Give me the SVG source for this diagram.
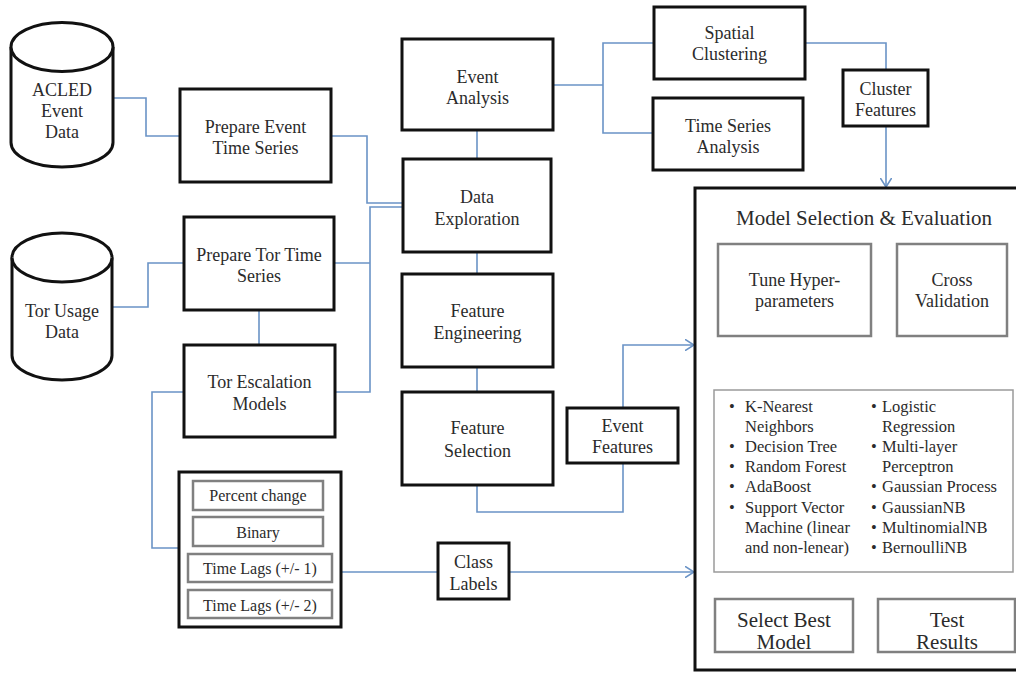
<svg xmlns="http://www.w3.org/2000/svg" width="1016" height="673" viewBox="0 0 1016 673" font-family="Liberation Serif, Times New Roman, DejaVu Serif, serif">
<defs>
<style>
.t{font-size:18px;fill:#2b2b2b;text-anchor:middle}
.s{font-size:16px}
.l{font-size:16.5px;fill:#2b2b2b}
.big{font-size:21px}
.bk{fill:#fff;stroke:#111;stroke-width:3}
.gr{fill:#fff;stroke:#808080;stroke-width:2.5}
.gl{fill:#fff;stroke:#9a9a9a;stroke-width:1.5}
.cyl{fill:#fff;stroke:#111;stroke-width:3}
.c{fill:none;stroke:#6a93c6;stroke-width:1.6}
</style>
<marker id="ar" viewBox="0 0 10 12" refX="9.5" refY="6" markerWidth="10" markerHeight="12" markerUnits="userSpaceOnUse" orient="auto">
<path d="M0,0 L9.5,6 L0,12" fill="none" stroke="#6a93c6" stroke-width="1.6"/>
</marker>
</defs>
<rect width="1016" height="673" fill="#fff"/>

<g id="connectors">
<path class="c" d="M113,98 H146 V136 H180"/>
<path class="c" d="M331,136 H367 V203 H403"/>
<path class="c" d="M112,307 H148 V263 H184"/>
<path class="c" d="M334,263 H370"/>
<path class="c" d="M403,207 H370 V392 H335"/>
<path class="c" d="M259,310 V345"/>
<path class="c" d="M184,392 H152 V548 H179"/>
<path class="c" d="M341,572 H438"/>
<path class="c" d="M509,572 H694" marker-end="url(#ar)"/>
<path class="c" d="M477,130 V159"/>
<path class="c" d="M477,252 V274"/>
<path class="c" d="M477,367 V392"/>
<path class="c" d="M477,485 V512 H623 V463"/>
<path class="c" d="M623,408 V345 H694" marker-end="url(#ar)"/>
<path class="c" d="M553,85 H603"/>
<path class="c" d="M654,43 H603 V133 H653"/>
<path class="c" d="M805,43 H886 V70"/>
<path class="c" d="M886,126 V187" marker-end="url(#ar)"/>
<path class="c" d="M871,290 H897"/>
<path class="c" d="M794,336 V362 H865 V390"/>
<path class="c" d="M780,572 L783,599"/>
<path class="c" d="M853,632 H878"/>
</g>

<g id="acled">
<path class="cyl" d="M11,47 A51,24.5 0 0 1 113,47 L113,142.5 A51,24.5 0 0 1 11,142.5 Z"/>
<path class="cyl" d="M11,47 A51,24.5 0 0 0 113,47" fill="none"/>
<text class="t" x="62" y="96">ACLED</text>
<text class="t" x="62" y="117">Event</text>
<text class="t" x="62" y="138">Data</text>
</g>

<g id="tor-usage">
<path class="cyl" d="M12,257.5 A50,24.5 0 0 1 112,257.5 L112,355.5 A50,24.5 0 0 1 12,355.5 Z"/>
<path class="cyl" d="M12,257.5 A50,24.5 0 0 0 112,257.5" fill="none"/>
<text class="t" x="62" y="317">Tor Usage</text>
<text class="t" x="62" y="338">Data</text>
</g>

<g id="prep-event">
<rect class="bk" x="180" y="89" width="151" height="93"/>
<text class="t" x="255.5" y="133">Prepare Event</text>
<text class="t" x="255.5" y="154">Time Series</text>
</g>

<g id="prep-tor">
<rect class="bk" x="184" y="217" width="150" height="93"/>
<text class="t" x="259" y="261">Prepare Tor Time</text>
<text class="t" x="259" y="282">Series</text>
</g>

<g id="tor-escalation">
<rect class="bk" x="184" y="345" width="151" height="92"/>
<text class="t" x="259.5" y="388">Tor Escalation</text>
<text class="t" x="259.5" y="410">Models</text>
</g>

<g id="labels-list">
<rect class="bk" x="179" y="472" width="162" height="155"/>
<rect class="gr" x="193" y="481" width="130" height="29"/>
<text class="t s" x="258" y="501">Percent change</text>
<rect class="gr" x="193" y="517" width="130" height="29"/>
<text class="t s" x="258" y="538">Binary</text>
<rect class="gr" x="188" y="554" width="144" height="28"/>
<text class="t s" x="260" y="574">Time Lags (+/- 1)</text>
<rect class="gr" x="188" y="590" width="144" height="28"/>
<text class="t s" x="260" y="611">Time Lags (+/- 2)</text>
</g>

<g id="class-labels">
<rect class="bk" x="438" y="543" width="71" height="56"/>
<text class="t" x="473.5" y="568">Class</text>
<text class="t" x="473.5" y="590">Labels</text>
</g>

<g id="event-analysis">
<rect class="bk" x="402" y="39" width="151" height="91"/>
<text class="t" x="477.5" y="83">Event</text>
<text class="t" x="477.5" y="104">Analysis</text>
</g>

<g id="data-exploration">
<rect class="bk" x="403" y="159" width="148" height="93"/>
<text class="t" x="477" y="203">Data</text>
<text class="t" x="477" y="225">Exploration</text>
</g>

<g id="feature-engineering">
<rect class="bk" x="402" y="274" width="151" height="93"/>
<text class="t" x="477.5" y="317">Feature</text>
<text class="t" x="477.5" y="339">Engineering</text>
</g>

<g id="feature-selection">
<rect class="bk" x="402" y="392" width="151" height="93"/>
<text class="t" x="477.5" y="434">Feature</text>
<text class="t" x="477.5" y="457">Selection</text>
</g>

<g id="event-features">
<rect class="bk" x="567" y="408" width="111" height="55"/>
<text class="t" x="622.5" y="432">Event</text>
<text class="t" x="622.5" y="453">Features</text>
</g>

<g id="spatial-clustering">
<rect class="bk" x="654" y="7" width="151" height="72"/>
<text class="t" x="729.5" y="39">Spatial</text>
<text class="t" x="729.5" y="60">Clustering</text>
</g>

<g id="time-series-analysis">
<rect class="bk" x="653" y="98" width="150" height="72"/>
<text class="t" x="728" y="132">Time Series</text>
<text class="t" x="728" y="153">Analysis</text>
</g>

<g id="cluster-features">
<rect class="bk" x="843" y="70" width="85" height="56"/>
<text class="t" x="885.5" y="95">Cluster</text>
<text class="t" x="885.5" y="116">Features</text>
</g>

<g id="model-selection">
<rect class="bk" x="695" y="188" width="340" height="482"/>
<text class="t big" x="864" y="225">Model Selection &amp; Evaluation</text>
</g>

<g id="tune">
<rect class="gr" x="718" y="244" width="153" height="92"/>
<text class="t" x="794.5" y="286">Tune Hyper-</text>
<text class="t" x="794.5" y="307">parameters</text>
</g>

<g id="cross-validation">
<rect class="gr" x="897" y="244" width="110" height="92"/>
<text class="t" x="952" y="286">Cross</text>
<text class="t" x="952" y="307">Validation</text>
</g>

<g id="models-list">
<rect class="gl" x="714" y="390" width="299" height="182"/>
<g class="l">
<text x="729" y="412">•</text><text x="745" y="412">K-Nearest</text>
<text x="745" y="432">Neighbors</text>
<text x="729" y="452">•</text><text x="745" y="452">Decision Tree</text>
<text x="729" y="472">•</text><text x="745" y="472">Random Forest</text>
<text x="729" y="492">•</text><text x="745" y="492">AdaBoost</text>
<text x="729" y="513">•</text><text x="745" y="513">Support Vector</text>
<text x="745" y="533">Machine (linear</text>
<text x="745" y="553">and non-lenear)</text>
<text x="871" y="412">•</text><text x="882" y="412">Logistic</text>
<text x="882" y="432">Regression</text>
<text x="871" y="452">•</text><text x="882" y="452">Multi-layer</text>
<text x="882" y="472">Perceptron</text>
<text x="871" y="492">•</text><text x="882" y="492">Gaussian Process</text>
<text x="871" y="513">•</text><text x="882" y="513">GaussianNB</text>
<text x="871" y="533">•</text><text x="882" y="533">MultinomialNB</text>
<text x="871" y="553">•</text><text x="882" y="553">BernoulliNB</text>
</g>
</g>

<g id="select-best">
<rect class="gr" x="715" y="599" width="138" height="53"/>
<text class="t big" x="784" y="627">Select Best</text>
<text class="t big" x="784" y="649">Model</text>
</g>

<g id="test-results">
<rect class="gr" x="878" y="599" width="137" height="53"/>
<text class="t big" x="947" y="627">Test</text>
<text class="t big" x="947" y="649">Results</text>
</g>
</svg>
